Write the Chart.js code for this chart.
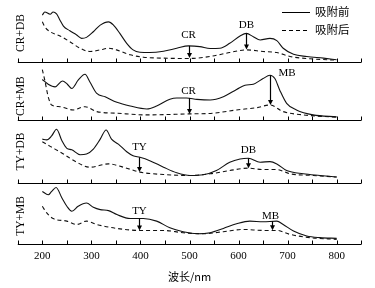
<!DOCTYPE html>
<html><head><meta charset="utf-8">
<script src="https://cdn.jsdelivr.net/npm/chart.js@4/dist/chart.umd.min.js"></script>
<style>html,body{margin:0;padding:0;background:#fff;}#wrap{width:375px;height:288px;}</style>
</head><body><div id="wrap"><canvas id="c" width="375" height="288"></canvas></div>
<script>
// ---- data (wavelength nm, relative absorbance) ----
const panelNames = ['CR+DB', 'CR+MB', 'TY+DB', 'TY+MB'];
const seriesNames = ['吸附前', '吸附后'];
const xTickLabels = [200, 300, 400, 500, 600, 700, 800];

const p1BeforeX = [200,205,216,222,229,236,243,256,270,280,290,304,318,335,345,358,372,385,399,419,447,474,498,521,542,562,582,603,616,630,644,664,678,691,712,739,773,800];
const p1BeforeY = [47.7,51,48.7,51,49,42.7,36.7,32,27.7,24.3,25.3,31,37.7,41,37.7,29.3,19.3,12.7,10.3,10,11.3,14.3,16.7,16,14,14.3,19.3,26.7,29.3,26,22.7,24.3,22,14.3,8.3,6,4.3,2.7];
const p1AfterX = [200,205,216,236,256,277,297,318,335,351,379,406,447,498,542,582,616,650,678,705,746,800];
const p1AfterY = [41,36,31,26.7,21,14.3,11,12.7,14.3,12.7,7.7,5.3,4.3,4,6,10,12.7,11,10,6,3.7,2.3];

const p2BeforeX = [200,212,226,241,251,260,273,287,297,311,328,352,379,413,433,460,474,494,515,542,569,596,613,630,650,664,674,684,698,718,752,800];
const p2BeforeY = [40.7,36,33.3,39.3,36,31.7,40,46,38.3,26.7,23.3,17.7,14,11,14,20.7,22,22,20.7,20,23.3,30.7,35,36,41.7,45,41.7,30,16.7,10,5,3];
const p2AfterX = [200,205,212,219,236,263,287,311,352,413,498,548,596,637,664,691,732,800];
const p2AfterY = [50.7,40,23.3,15,13.3,10,13.3,8.3,6.7,5,6,6.7,10,12.3,15,8.3,5,2.7];

const p3BeforeX = [200,209,219,229,240,250,260,277,290,304,318,330,341,355,372,385,399,419,447,474,501,528,555,582,603,620,644,664,678,698,732,766,800];
const p3BeforeY = [44,43.3,47.3,54,42.3,34.7,33.3,28.3,29,34,44,53.3,44,39,31.3,27.3,25.7,22.3,15.7,10,7.3,8,12.3,20.7,24,24.7,20.7,21.3,19,12.3,9,7.3,5.7];
const p3AfterX = [200,216,243,270,297,335,365,399,447,501,542,582,620,650,678,705,752,800];
const p3AfterY = [41.3,36.7,29,20.7,15.7,19,15.7,10.7,8.3,7.3,9,12.3,14.7,13.3,13.3,9,7.3,5.7];

const p4BeforeX = [200,212,219,228,240,250,260,273,290,304,318,335,352,379,406,433,460,487,515,542,569,596,623,650,678,691,712,739,766,800];
const p4BeforeY = [52.7,49.3,52.7,56.7,46,37.7,32.7,37.7,41,36.7,34.3,33.3,29.3,25.3,25.3,22.7,16,12,10,11,15.3,20,22.7,22,22.7,19.3,12.7,7.7,6,5.3];
const p4AfterX = [200,209,222,250,270,290,311,352,399,447,487,528,569,610,650,678,705,746,800];
const p4AfterY = [37.7,31,25.3,22.7,19.3,22.7,19.3,15.3,13.3,13.3,11,10,12,14.3,13.3,13.3,9.3,6,4.3];

// annotations: dye peak arrows (panel index, label, wavelength, value before, value after)
const arrowPanel = [0, 0, 1, 1, 2, 2, 3, 3];
const arrowLabel = ['CR', 'DB', 'CR', 'MB', 'TY', 'DB', 'TY', 'MB'];
const arrowX = [498, 616, 498, 664, 398, 620, 398, 668];
const arrowFrom = [16.7, 29.3, 22, 45, 25.7, 24.7, 25.3, 22.5];
const arrowTo = [4.5, 13, 6, 15, 10.7, 14.7, 13.3, 13.5];

// ---- layout (not data) ----
const labelPos = [[498,27.7],[616,37.7],[498,29],[699,47],[398,35.5],[620,32.5],[398,33],[665,28]];
const panelLabelPos = [29.7, 24, 31.5, 28];
const panelMax = [58, 58, 63.5, 61.5];
const serif = '"Liberation Serif", "Times New Roman", serif';
const cjk = '"Noto Sans CJK SC", "Liberation Serif", sans-serif';

const befores = [[p1BeforeX,p1BeforeY],[p2BeforeX,p2BeforeY],[p3BeforeX,p3BeforeY],[p4BeforeX,p4BeforeY]];
const afters = [[p1AfterX,p1AfterY],[p2AfterX,p2AfterY],[p3AfterX,p3AfterY],[p4AfterX,p4AfterY]];
const pts = (xs, ys) => xs.map((x, i) => ({x, y: ys[i]}));

const datasets = [];
const scales = {
  x: {
    type: 'linear', min: 150, max: 850,
    grid: {display: false, drawTicks: false},
    border: {display: false},
    ticks: {
      stepSize: 50, padding: 6, color: '#000', maxRotation: 0, autoSkip: false,
      font: {family: serif, size: 11},
      callback: v => xTickLabels.includes(v) ? String(v) : ''
    },
    title: {display: true, text: '波长/nm', color: '#000', font: {family: cjk, size: 11}, padding: {top: 1, bottom: 1}}
  }
};
// stacked panels: first axis in the stack is placed at the bottom
for (let p = panelNames.length - 1; p >= 0; p--) {
  scales['y' + (p + 1)] = {
    type: 'linear', display: false, min: 0, max: panelMax[p],
    stack: 'panels', stackWeight: panelMax[p], position: 'left', offset: false
  };
}
panelNames.forEach((name, p) => {
  const id = 'y' + (p + 1);
  datasets.push({
    label: name + ' ' + seriesNames[0], data: pts(...befores[p]), yAxisID: id,
    borderColor: '#111', borderWidth: 1.1, pointRadius: 0, cubicInterpolationMode: 'monotone', fill: false
  });
  datasets.push({
    label: name + ' ' + seriesNames[1], data: pts(...afters[p]), yAxisID: id,
    borderColor: '#111', borderWidth: 1.1, borderDash: [4, 3], pointRadius: 0, cubicInterpolationMode: 'monotone', fill: false
  });
});

const decor = {
  id: 'decor',
  afterDraw(chart) {
    const ctx = chart.ctx;
    const xs = chart.scales.x;
    ctx.save();
    ctx.strokeStyle = '#000';
    ctx.fillStyle = '#000';
    panelNames.forEach((name, p) => {
      const ys = chart.scales['y' + (p + 1)];
      const base = Math.round(ys.getPixelForValue(0)) + 0.5;
      const x0 = xs.getPixelForValue(150), x1 = xs.getPixelForValue(850);
      ctx.lineWidth = 1.2;
      ctx.beginPath(); ctx.moveTo(x0, base); ctx.lineTo(x1, base); ctx.stroke();
      ctx.lineWidth = 1;
      for (let v = 150; v <= 850; v += 50) {
        const tx = Math.round(xs.getPixelForValue(v)) + 0.5;
        ctx.beginPath(); ctx.moveTo(tx, base); ctx.lineTo(tx, base - 4); ctx.stroke();
      }
      // rotated panel label
      ctx.save();
      ctx.translate(21, ys.getPixelForValue(panelLabelPos[p]));
      ctx.rotate(-Math.PI / 2);
      ctx.font = '11.5px ' + serif;
      ctx.textAlign = 'center'; ctx.textBaseline = 'middle';
      ctx.fillText(name, 0, 0);
      ctx.restore();
    });
    // arrows
    arrowLabel.forEach((lab, i) => {
      const ys = chart.scales['y' + (arrowPanel[i] + 1)];
      const ax = Math.round(xs.getPixelForValue(arrowX[i])) + 0.5;
      const yTop = ys.getPixelForValue(arrowFrom[i]);
      const yTip = ys.getPixelForValue(arrowTo[i]);
      ctx.lineWidth = 1.2;
      ctx.beginPath(); ctx.moveTo(ax, yTop); ctx.lineTo(ax, yTip - 4); ctx.stroke();
      ctx.beginPath(); ctx.moveTo(ax - 2.5, yTip - 5); ctx.lineTo(ax + 2.5, yTip - 5); ctx.lineTo(ax, yTip); ctx.closePath(); ctx.fill();
      ctx.font = '11px ' + serif;
      ctx.textAlign = 'center'; ctx.textBaseline = 'middle';
      ctx.fillText(lab, xs.getPixelForValue(labelPos[i][0]), ys.getPixelForValue(labelPos[i][1]));
    });
    // legend
    const lx0 = 282, lx1 = 310;
    ctx.lineWidth = 1;
    ctx.beginPath(); ctx.moveTo(lx0, 12.5); ctx.lineTo(lx1, 12.5); ctx.stroke();
    ctx.setLineDash([4, 3]);
    ctx.beginPath(); ctx.moveTo(lx0, 30.5); ctx.lineTo(lx1, 30.5); ctx.stroke();
    ctx.setLineDash([]);
    ctx.font = '11.5px ' + cjk;
    ctx.textAlign = 'left'; ctx.textBaseline = 'middle';
    ctx.fillText(seriesNames[0], 315, 12);
    ctx.fillText(seriesNames[1], 315, 30);
    ctx.restore();
  }
};

new Chart(document.getElementById('c'), {
  type: 'line',
  data: {datasets},
  options: {
    responsive: false, animation: false, devicePixelRatio: 1,
    layout: {padding: {left: 17.8, right: 13.8, top: 5, bottom: 4}},
    plugins: {legend: {display: false}, tooltip: {enabled: false}},
    scales
  },
  plugins: [decor]
});
</script></body></html>
